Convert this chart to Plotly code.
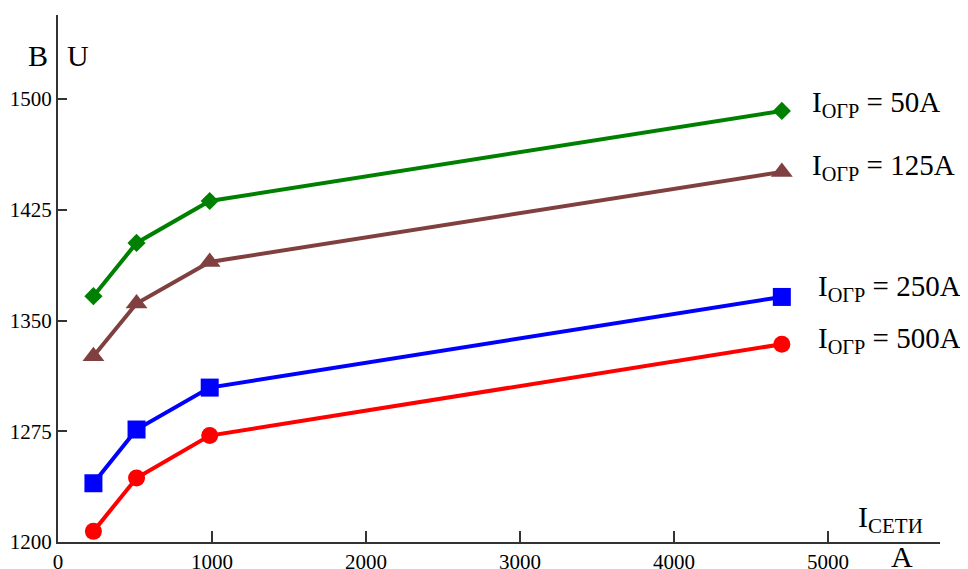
import plotly.graph_objects as go

x_vals = [230, 510, 985, 4700]
u_50 = [1366.5, 1402.6, 1431.0, 1492.0]
u_125 = [1325.9, 1361.5, 1389.7, 1450.7]
u_250 = [1239.8, 1276.2, 1304.6, 1366.0]
u_500 = [1207.2, 1243.4, 1272.1, 1334.0]

series_names = ["50А", "125А", "250А", "500А"]
series_values = [u_50, u_125, u_250, u_500]
colors = ["#008000", "#804040", "#0000FF", "#FF0000"]
symbols = ["diamond", "triangle-up", "square", "circle"]
sizes = [14, 19, 18, 17]

x_ticks = [0, 1000, 2000, 3000, 4000, 5000]
y_ticks = [1200, 1275, 1350, 1425, 1500]

FONT = "Liberation Serif"

fig = go.Figure()
for name, vals, c, s, sz in zip(series_names, series_values, colors, symbols, sizes):
    fig.add_trace(go.Scatter(
        x=x_vals, y=vals, mode="lines+markers", name=name,
        line=dict(color=c, width=4),
        marker=dict(color=c, symbol=s, size=sz, line=dict(width=0)),
        showlegend=False,
        cliponaxis=False,
    ))

# page body has an 8px margin; figure is sized to fill the rest of the window
OFF = 8
W, H = 968 - OFF, 569 - OFF
L, R, T, B = 58 - OFF, 28, 15 - OFF, 27
pw, ph = W - L - R, H - T - B

def px(xp):
    return (xp - OFF - L) / pw

def py(yp):
    return (H - B - (yp - OFF)) / ph

labels = [
    ("I<sub>ОГР</sub> = 50А", 810, 104),
    ("I<sub>ОГР</sub> = 125А", 810, 167),
    ("I<sub>ОГР</sub> = 250А", 816, 288),
    ("I<sub>ОГР</sub> = 500А", 816, 340),
]
annotations = []
for txt, xp, yp in labels:
    annotations.append(dict(
        text=txt, x=px(xp), y=py(yp), xref="paper", yref="paper",
        xanchor="left", yanchor="middle", showarrow=False,
        font=dict(family=FONT, size=29, color="black"),
    ))

annotations += [
    dict(text="В", x=px(38), y=py(56), xref="paper", yref="paper",
         xanchor="center", yanchor="middle", showarrow=False,
         font=dict(family=FONT, size=30, color="black")),
    dict(text="U", x=px(78), y=py(56), xref="paper", yref="paper",
         xanchor="center", yanchor="middle", showarrow=False,
         font=dict(family=FONT, size=30, color="black")),
    dict(text="I<sub>СЕТИ</sub>", x=px(856), y=py(519), xref="paper", yref="paper",
         xanchor="left", yanchor="middle", showarrow=False,
         font=dict(family=FONT, size=30, color="black")),
    dict(text="А", x=px(902), y=py(556), xref="paper", yref="paper",
         xanchor="center", yanchor="middle", showarrow=False,
         font=dict(family=FONT, size=30, color="black")),
]

fig.update_layout(
    width=W, height=H,
    margin=dict(l=L, r=R, t=T, b=B, pad=0, autoexpand=False),
    paper_bgcolor="white", plot_bgcolor="white",
    annotations=annotations,
    xaxis=dict(
        range=[0, 5727], tickvals=x_ticks, ticktext=[str(v) for v in x_ticks],
        showgrid=False, zeroline=False, showline=True, linecolor="#333333", linewidth=2,
        ticks="inside", ticklen=11, tickwidth=2, tickcolor="#333333",
        tickfont=dict(family=FONT, size=21, color="black"), automargin=False,
    ),
    yaxis=dict(
        range=[1200, 1557], tickvals=y_ticks, ticktext=[str(v) for v in y_ticks],
        showgrid=False, zeroline=False, showline=True, linecolor="#333333", linewidth=2,
        ticks="inside", ticklen=9, tickwidth=2, tickcolor="#333333",
        tickfont=dict(family=FONT, size=21, color="black"), automargin=False,
    ),
)

fig.write_html("out.html")
